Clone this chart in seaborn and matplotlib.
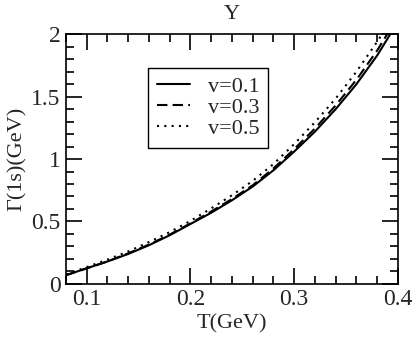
import numpy as np
import pandas as pd
import seaborn as sns
import matplotlib.pyplot as plt
from matplotlib.ticker import MultipleLocator

   #data.
T = [0.08, 0.10, 0.12, 0.14, 0.16, 0.18, 0.20, 0.22, 0.24,
     0.26, 0.28, 0.30, 0.32, 0.34, 0.36, 0.38, 0.40]
gamma_v01 = [0.07, 0.125, 0.18, 0.24, 0.31, 0.39, 0.48, 0.57, 0.67,
             0.78, 0.91, 1.06, 1.22, 1.40, 1.60, 1.83, 2.10]
gamma_v03 = [0.07, 0.125, 0.18, 0.245, 0.315, 0.395, 0.485, 0.58, 0.68,
             0.79, 0.925, 1.08, 1.245, 1.43, 1.635, 1.87, 2.14]
gamma_v05 = [0.075, 0.135, 0.195, 0.26, 0.335, 0.415, 0.505, 0.605, 0.71,
             0.825, 0.96, 1.12, 1.295, 1.485, 1.70, 1.94, 2.20]
labels = ['v=0.1', 'v=0.3', 'v=0.5']

sns.set_style('ticks')
plt.rcParams['font.family'] = ['Liberation Serif', 'DejaVu Serif']

fig = plt.figure(figsize=(4.15, 3.38), dpi=100)
ax = fig.add_axes([0.159, 0.16, 0.8, 0.739])

   #one line per velocity.
styles = ['-', (0, (5, 2.5)), (0, (1, 2.5))]
for vals, lab, ls in zip([gamma_v01, gamma_v03, gamma_v05], labels, styles):
    df = pd.DataFrame({'T': T, 'G': vals})
    sns.lineplot(data=df, x='T', y='G', ax=ax, color='black',
                 linewidth=1.5, linestyle=ls, label=lab)

ax.set_xlim(0.08, 0.4)
ax.set_ylim(0, 2)
ax.xaxis.set_minor_locator(MultipleLocator(0.02))
ax.yaxis.set_minor_locator(MultipleLocator(0.1))
ax.set_xticks([0.1, 0.2, 0.3, 0.4])
ax.set_xticklabels(['0.1', '0.2', '0.3', '0.4'])
ax.set_yticks([0, 0.5, 1, 1.5, 2])
ax.set_yticklabels(['0', '0.5', '1', '1.5', '2'])
ax.tick_params(which='both', direction='in', top=True, right=True,
               width=1.2, color='black', labelsize=17, pad=4)
ax.tick_params(which='major', length=11.5)
ax.tick_params(which='minor', length=5.5)
for s in ax.spines.values():
    s.set_linewidth(1.2)
    s.set_color('black')

ax.set_title('\u03a5', fontsize=16, pad=11)
ax.set_xlabel('T(GeV)', fontsize=16, labelpad=3)
ax.set_ylabel('\u0393(1s)(GeV)', fontsize=16, labelpad=3)

leg = ax.legend(loc='upper left', bbox_to_anchor=(0.248, 0.864),
                fancybox=False, framealpha=1, edgecolor='black',
                fontsize=16, handlelength=1.5, handletextpad=0.8,
                borderpad=0.38, labelspacing=0.02, borderaxespad=0)
leg.get_frame().set_linewidth(1.0)

plt.savefig('out.png', dpi=100)
